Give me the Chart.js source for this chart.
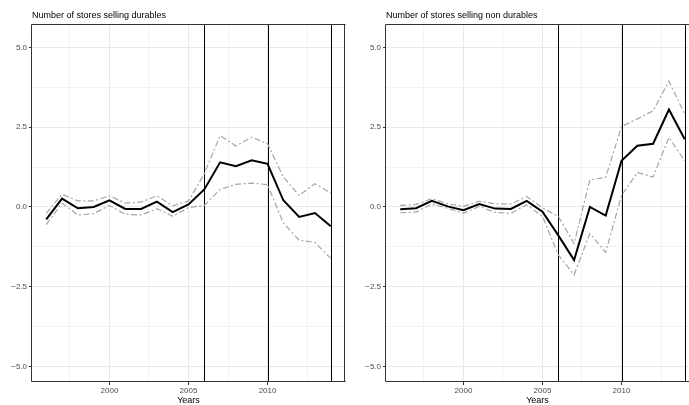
<!DOCTYPE html>
<html>
<head>
<meta charset="utf-8">
<script src="https://cdn.jsdelivr.net/npm/chart.js@4.4.1/dist/chart.umd.min.js"></script>
<style>
  body { margin: 0; background: #fff; }
  #wrap { position: relative; width: 689px; height: 405px; overflow: hidden; font-family: "Liberation Sans", Arial, sans-serif; }
  #wrap canvas { position: absolute; top: 0; }
  .ptitle { position: absolute; top: 10px; font-size: 9px; line-height: 10px; color: #000; white-space: nowrap; }
</style>
</head>
<body>
<div id="wrap">
  <canvas id="durables" width="346" height="405" style="left:0"></canvas>
  <canvas id="nondurables" width="344" height="405" style="left:345px"></canvas>
  <div class="ptitle" style="left:32px">Number of stores selling durables</div>
  <div class="ptitle" style="left:386px">Number of stores selling non durables</div>
</div>
<script>
const years = [1996, 1997, 1998, 1999, 2000, 2001, 2002, 2003, 2004, 2005, 2006, 2007, 2008, 2009, 2010, 2011, 2012, 2013, 2014];

// durables: estimate and band
const durEst   = [-0.39, 0.26, -0.04, 0.00, 0.21, -0.06, -0.06, 0.17, -0.16, 0.08, 0.55, 1.40, 1.28, 1.46, 1.35, 0.21, -0.31, -0.19, -0.60];
const durUpper = [-0.20, 0.40, 0.19, 0.19, 0.35, 0.12, 0.15, 0.35, 0.04, 0.19, 1.04, 2.24, 1.91, 2.19, 1.98, 0.94, 0.36, 0.73, 0.44];
const durLower = [-0.55, 0.12, -0.25, -0.21, 0.05, -0.23, -0.25, -0.05, -0.29, -0.02, 0.05, 0.55, 0.71, 0.75, 0.70, -0.50, -1.04, -1.11, -1.61];

// non durables: estimate and band
const ndEst   = [-0.07, -0.04, 0.19, 0.02, -0.10, 0.09, -0.05, -0.06, 0.19, -0.15, -0.89, -1.66, 0.00, -0.27, 1.45, 1.92, 1.98, 3.05, 2.12];
const ndUpper = [0.05, 0.08, 0.26, 0.10, 0.02, 0.18, 0.10, 0.09, 0.33, -0.03, -0.29, -1.15, 0.85, 0.93, 2.52, 2.76, 3.01, 3.94, 2.91];
const ndLower = [-0.18, -0.16, 0.09, -0.04, -0.20, 0.02, -0.17, -0.20, 0.07, -0.29, -1.50, -2.12, -0.83, -1.42, 0.36, 1.08, 0.94, 2.18, 1.44];

const breakYears = [2006, 2010, 2014];
const yTicks = [-5, -3.75, -2.5, -1.25, 0, 1.25, 2.5, 3.75, 5];
const yMajor = [-5, -2.5, 0, 2.5, 5];
const xTicks = [1997.5, 2000, 2002.5, 2005, 2007.5, 2010, 2012.5];
const xMajor = [2000, 2005, 2010];

const tickFont = { family: "Liberation Sans", size: 8 };

const toPoints = (vals) => years.map((yr, i) => ({ x: yr, y: vals[i] }));

// vertical break lines + panel frame
const panelDecor = {
  id: "panelDecor",
  beforeDatasetsDraw(chart) {
    const { ctx, chartArea: a, scales: { x } } = chart;
    ctx.save();
    ctx.strokeStyle = "#000";
    ctx.lineWidth = 1;
    breakYears.forEach((yr) => {
      const px = Math.round(x.getPixelForValue(yr)) + 0.5;
      ctx.beginPath();
      ctx.moveTo(px, a.top);
      ctx.lineTo(px, a.bottom);
      ctx.stroke();
    });
    ctx.restore();
  },
  afterDraw(chart, args, opts) {
    const { ctx, chartArea: a } = chart;
    const l = Math.round(a.left) - 0.5, t = Math.round(a.top) + 0.5;
    const r = Math.round(a.right) - 0.5, b = Math.round(a.bottom) - 0.5;
    ctx.save();
    ctx.strokeStyle = "#333";
    ctx.lineWidth = 1;
    ctx.beginPath();
    ctx.moveTo(l, t); ctx.lineTo(r + 1, t);
    ctx.moveTo(l, t); ctx.lineTo(l, b);
    ctx.moveTo(l, b); ctx.lineTo(r + 1, b);
    if (opts.rightBorder) { ctx.moveTo(r, t); ctx.lineTo(r, b); }
    ctx.stroke();
    ctx.restore();
  },
};

function makePanel(id, est, upper, lower, xMax, axisWidth, rightBorder) {
  const band = (vals) => ({
    data: toPoints(vals),
    borderColor: "#a6a6a6",
    borderWidth: 1.2,
    borderDash: [6, 2.5, 2, 2.5],
    pointRadius: 0,
    tension: 0,
  });
  return new Chart(document.getElementById(id), {
    type: "line",
    data: {
      datasets: [
        band(upper),
        band(lower),
        { data: toPoints(est), borderColor: "#000", borderWidth: 2, pointRadius: 0, tension: 0 },
      ],
    },
    options: {
      responsive: false,
      animation: false,
      devicePixelRatio: 1,
      layout: { padding: { top: 24, left: 0, right: rightBorder ? 1 : 0, bottom: 0 } },
      plugins: { legend: { display: false }, tooltip: { enabled: false }, panelDecor: { rightBorder } },
      scales: {
        x: {
          type: "linear",
          min: 1995.1,
          max: xMax,
          afterBuildTicks: (s) => { s.ticks = xTicks.map((v) => ({ value: v })); },
          afterFit: (s) => { s.height = 23; },
          border: { display: false },
          grid: {
            color: (c) => (c.tick && xMajor.includes(c.tick.value) ? "#e8e8e8" : "#f2f2f2"),
            tickColor: (c) => (c.tick && xMajor.includes(c.tick.value) ? "#333" : "rgba(0,0,0,0)"),
            tickLength: 3,
          },
          ticks: {
            autoSkip: false,
            maxRotation: 0,
            padding: 1,
            color: "#4d4d4d",
            font: tickFont,
            callback: (v) => (xMajor.includes(v) ? String(v) : ""),
          },
          title: { display: true, text: "Years", color: "#000", font: { family: "Liberation Sans", size: 9, lineHeight: 1 }, padding: 0 },
        },
        y: {
          min: -5.48,
          max: 5.73,
          afterBuildTicks: (s) => { s.ticks = yTicks.map((v) => ({ value: v })); },
          afterFit: (s) => { s.width = axisWidth; },
          border: { display: false },
          grid: {
            color: (c) => (c.tick && yMajor.includes(c.tick.value) ? "#e8e8e8" : "#f2f2f2"),
            tickColor: (c) => (c.tick && yMajor.includes(c.tick.value) ? "#333" : "rgba(0,0,0,0)"),
            tickLength: 3,
          },
          ticks: {
            autoSkip: false,
            padding: 2,
            color: "#4d4d4d",
            font: tickFont,
            callback: (v) => (yMajor.includes(v) ? v.toFixed(1).replace("-", "\u2212") : ""),
          },
        },
      },
    },
    plugins: [panelDecor],
  });
}

makePanel("durables", durEst, durUpper, durLower, 2014.9, 32, true);
makePanel("nondurables", ndEst, ndUpper, ndLower, 2014.27, 41, false);
</script>
</body>
</html>
